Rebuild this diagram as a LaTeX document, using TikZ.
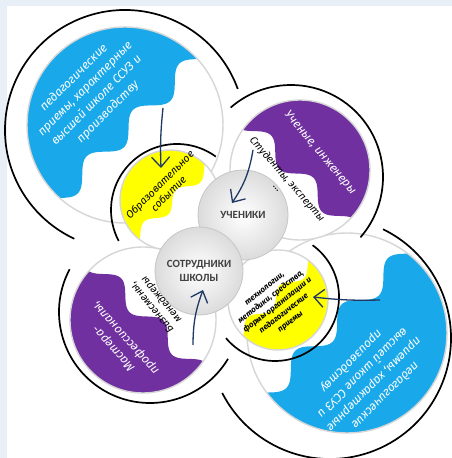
\documentclass[tikz,border=0pt]{standalone}
\usepackage{fontspec}
\setmainfont{Fira Sans}
\newfontfamily\capsfont{Carlito}
\usetikzlibrary{arrows.meta}
\definecolor{skyC}{HTML}{19A9EA}
\definecolor{purpC}{HTML}{7030A0}
\definecolor{yelC}{HTML}{FFFF00}
\definecolor{navyC}{HTML}{203864}
\definecolor{frameC}{HTML}{E9EFF7}
\definecolor{rimC}{HTML}{D6D6D6}
\definecolor{capC}{HTML}{404040}
\tikzset{
  rim/.style={draw=rimC, line width=1.4pt},
  outline/.style={draw=black, line width=1.7pt},
  pointer/.style={draw=navyC, line width=1.3pt, -{Straight Barb[length=10pt,width=18pt]}},
  whitetxt/.style={text=white, align=center, inner sep=0pt, font=\itshape\fontsize{12}{16}\selectfont},
  darktxt/.style={text=black, align=center, inner sep=0pt, font=\itshape\fontsize{10.5}{12.5}\selectfont},
  graycirc/.style={circle, minimum size=#1, draw=gray!45, line width=0.8pt, inner color=white, outer color=gray!28, text=capC, align=center, font=\capsfont\bfseries\fontsize{11}{13.5}\selectfont},
}
\newcommand\wavedisc[8]{%
  \pgfmathsetmacro\wlo{-#3-12}\pgfmathsetmacro\whi{#3+12}%
  \fill[white] (#1,#2) circle (#3);
  \begin{scope}
    \clip (#1,#2) circle (#3);
    \fill[#8, shift={(#1,#2)}, rotate=#4] plot[domain=\wlo:\whi, samples=120, smooth] (\x,{#5+#6*sin(#7*\x)}) -- (\whi,\whi) -- (\wlo,\whi) -- cycle;
  \end{scope}
  \draw[rim] (#1,#2) circle (#3);
}
\begin{document}
\begin{tikzpicture}[x=1pt,y=1pt]
\useasboundingbox (0,0) rectangle (452,458);
\fill[frameC] (0,0) rectangle (452,458);
\fill[white] (7,0) rectangle (452,452);

% big discs
\wavedisc{143}{138}{73}{135}{-5}{9}{6}{purpC}
\wavedisc{347}{125}{100}{225}{-14}{10}{5.5}{skyC}
\wavedisc{125}{333}{98}{45}{-5}{10}{5.5}{skyC}
\wavedisc{300}{288}{70}{-45}{-5}{9}{6}{purpC}

% small yellow discs
\wavedisc{170}{258}{50}{45}{-3}{6}{8}{yelC}
\wavedisc{278}{158}{50}{-135}{-3}{6}{8}{yelC}

% black arcs
\draw[outline] ([shift={(20:120)}]125,328) arc[start angle=20, end angle=245, radius=120];
\draw[outline] ([shift={(131:92)}]291,281) arc[start angle=131, end angle=-41, radius=92];
\draw[outline] ([shift={(152:91)}]150,146) arc[start angle=152, end angle=329, radius=91];
\draw[outline] ([shift={(64:121)}]330,120) arc[start angle=64, end angle=-153, radius=121];
\draw[outline] ([shift={(54:66)}]177,248) arc[start angle=54, end angle=208, radius=66];
\draw[outline] ([shift={(54:64)}]275,161) arc[start angle=54, end angle=-140, radius=64];

% gray circles
\node[graycirc=90pt] (pupils) at (243,243) {УЧЕНИКИ};
\node[graycirc=88pt] (staff) at (199,187) {СОТРУДНИКИ\\ШКОЛЫ};

% texts
\node[whitetxt, rotate=45] (tltxt) at (91,363) {педагогические\\приемы, характерные\\высшей школе ССУЗ и\\производству};
\node[whitetxt, rotate=225] (brtxt) at (368,80) {педагогические\\приемы, характерные\\высшей школе ССУЗ и\\производству};
\node[whitetxt, rotate=-50] (trtxt) at (320,305) {Ученые, инженеры};
\node[whitetxt, rotate=132] (bltxt) at (120,115) {Мастера-\\профессионалы,};
\node[darktxt, rotate=-49] (stud) at (283,275) {Студенты, эксперты\\…};
\node[darktxt, rotate=130] (biz) at (157,155) {Бизнесмены,\\менеджеры};
\node[darktxt, rotate=45] (event) at (164,269) {Образовательное\\событие};
\node[darktxt, rotate=38, font=\itshape\bfseries\fontsize{8}{10.5}\selectfont] (tech) at (278,152) {технологии,\\методики, средства,\\формы организации и\\педагогические\\приемы};

% arrows
\coordinate (a1s) at (163,350); \coordinate (a1e) at (161,290);
\coordinate (a2s) at (253,308); \coordinate (a2e) at (232,255);
\coordinate (a3s) at (193,113); \coordinate (a3e) at (203,168);
\coordinate (a4s) at (380,158); \coordinate (a4e) at (313,161);
\draw[pointer] (a1s) to[bend right=4] (a1e);
\draw[pointer] (a2s) to[bend left=12] (a2e);
\draw[pointer] (a3s) to[bend left=10] (a3e);
\draw[pointer] (a4s) to[bend left=4] (a4e);
\end{tikzpicture}
\end{document}
